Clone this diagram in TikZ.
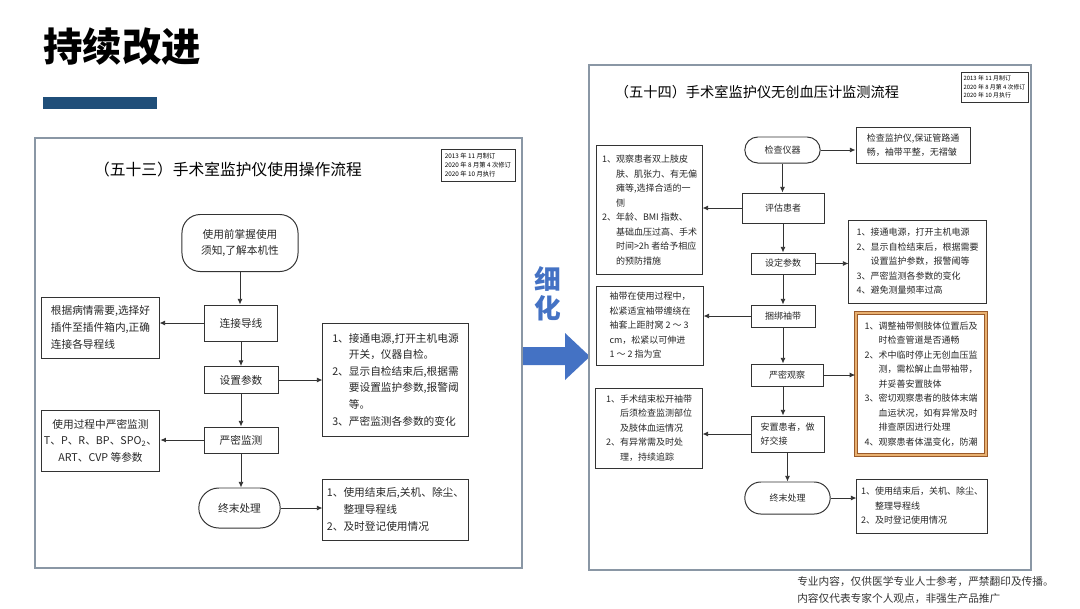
\documentclass[tikz,border=0pt]{standalone}
\usepackage{fontspec}
\setmainfont{Noto Sans CJK SC}
\usetikzlibrary{arrows.meta,shapes.misc}

\definecolor{framegray}{HTML}{8A97A5}
\definecolor{barblue}{HTML}{1F4E79}
\definecolor{arrowblue}{HTML}{4472C4}
\definecolor{boxline}{HTML}{333333}
\definecolor{brownline}{HTML}{9A5A2A}
\definecolor{orangeline}{HTML}{E8B070}

% hanging indent for numbered lines
\newcommand{\ind}{\phantom{1、}}

\tikzset{
  panelframe/.style={draw=framegray, line width=1pt},
  procbox/.style={draw=boxline, line width=0.7pt, text=black!85, inner sep=2pt},
  startbox/.style={procbox, rounded corners=13pt},
  endbox/.style={procbox, rounded rectangle},
  notebox/.style={procbox, align=left},
  warnbox/.style={notebox, draw=brownline, line width=1pt, double=orangeline, double distance=1.2pt},
  verbox/.style={draw=boxline, line width=0.6pt, align=left, inner sep=1.5pt},
  flow/.style={draw=boxline, line width=0.6pt, -{Latex[length=4pt,width=3.5pt]}},
  lfont/.style={font=\fontsize{7.6}{11.8}\selectfont},
  rfont/.style={font=\fontsize{6.4}{10.3}\selectfont}
}

\begin{document}
\begin{tikzpicture}[x=0.025cm, y=-0.025cm]
\useasboundingbox (0,0) rectangle (1080,608);

% heading
\node[anchor=west, inner sep=0, font=\fontsize{28}{30}\selectfont\bfseries] (heading) at (43,46.5) {持续改进};
\fill[barblue] (43,97) rectangle (157,109);

% left panel
\draw[panelframe] (35,138) rectangle (522,568);
\node[font=\fontsize{11.2}{13}\selectfont] (titleL) at (228,170) {（五十三）手术室监护仪使用操作流程};
\node[verbox, minimum width=1.85cm, minimum height=0.8cm, font=\fontsize{4.5}{6.4}\selectfont] (verL) at (478,165)
  {2013 年 11 月制订\\2020 年 8 月第 4 次修订\\2020 年 10 月执行};

\node[startbox, lfont, align=center, minimum width=2.9cm, minimum height=1.425cm] (useL) at (240,243) {使用前掌握使用\\须知,了解本机性};
\node[procbox, lfont, minimum width=1.825cm, minimum height=0.9cm] (wireL) at (241,323) {连接导线};
\node[procbox, lfont, minimum width=1.85cm, minimum height=0.675cm] (setL) at (241,380) {设置参数};
\node[procbox, lfont, minimum width=1.85cm, minimum height=0.65cm] (monL) at (241,440) {严密监测};
\node[endbox, lfont, minimum width=2.175cm, minimum height=1cm] (endL) at (239.5,508) {终末处理};

\node[notebox, lfont, minimum width=2.925cm, minimum height=1.525cm] (wireNote) at (100.5,327.5)
  {根据病情需要,选择好\\插件至插件箱内,正确\\连接各导程线};
\node[notebox, lfont, minimum width=3.625cm, minimum height=2.825cm] (setNote) at (395.5,379.5)
  {1、接通电源,打开主机电源\\\ind 开关，仪器自检。\\2、显示自检结束后,根据需\\\ind 要设置监护参数,报警阈\\\ind 等。\\3、严密监测各参数的变化};
\node[notebox, lfont, align=center, minimum width=2.925cm, minimum height=1.525cm] (monNote) at (100.5,440.5)
  {使用过程中严密监测\\T、P、R、BP、SPO\textsubscript{2}、\\ART、CVP 等参数};
\node[notebox, lfont, minimum width=3.625cm, minimum height=1.525cm] (endNote) at (395.5,509.5)
  {1、使用结束后,关机、除尘、\\\ind 整理导程线\\2、及时登记使用情况};

\draw[flow] (useL.south) -- (useL.south |- wireL.north);
\draw[flow] (wireL.south) -- (wireL.south |- setL.north);
\draw[flow] (setL.south) -- (setL.south |- monL.north);
\draw[flow] (monL.south) -- (monL.south |- endL.north);
\draw[flow] (wireL.west) -- (wireL.west -| wireNote.east);
\draw[flow] (setL.east) -- (setL.east -| setNote.west);
\draw[flow] (monL.west) -- (monL.west -| monNote.east);
\draw[flow] (endL.east) -- (endL.east -| endNote.west);

% refine arrow
\node[font=\fontsize{19}{20.5}\selectfont\bfseries, text=arrowblue, align=center] (refine) at (548,294) {细\\化};
\fill[arrowblue] (523,347) -- (565,347) -- (565,333) -- (590,356.5) -- (565,380) -- (565,365) -- (523,365) -- cycle;

% right panel
\draw[panelframe] (589,65) rectangle (1031,570);
\node[font=\fontsize{10.1}{12}\selectfont] (titleR) at (757,92) {（五十四）手术室监护仪无创血压计监测流程};
\node[verbox, minimum width=1.675cm, minimum height=0.75cm, font=\fontsize{4.2}{6}\selectfont] (verR) at (994.5,87)
  {2013 年 11 月制订\\2020 年 8 月第 4 次修订\\2020 年 10 月执行};

\node[endbox, rfont, minimum width=2.025cm, minimum height=0.65cm] (checkR) at (782.5,150) {检查仪器};
\node[procbox, rfont, minimum width=2.05cm, minimum height=0.75cm] (assessR) at (783,208) {评估患者};
\node[procbox, rfont, minimum width=1.6cm, minimum height=0.525cm] (setR) at (783,263.5) {设定参数};
\node[procbox, rfont, minimum width=1.6cm, minimum height=0.55cm] (cuffR) at (783,316) {捆绑袖带};
\node[procbox, rfont, minimum width=1.8cm, minimum height=0.55cm] (watchR) at (787,375) {严密观察};
\node[procbox, rfont, align=left, minimum width=1.825cm, minimum height=0.9cm] (placeR) at (787.5,434) {安置患者，做\\好交接};
\node[endbox, rfont, minimum width=2.275cm, minimum height=0.8cm] (endR) at (787.5,498) {终末处理};

\node[notebox, rfont, minimum width=2.85cm, minimum height=0.9cm] (checkNote) at (913,145)
  {检查监护仪,保证管路通\\畅，袖带平整，无褶皱};
\node[notebox, rfont, minimum width=2.625cm, minimum height=3.2cm] (assessNote) at (649.5,210)
  {1、观察患者双上肢皮\\\ind 肤、肌张力、有无偏\\\ind 瘫等,选择合适的一\\\ind 侧\\2、年龄、BMI 指数、\\\ind 基础血压过高、手术\\\ind 时间>2h 者给予相应\\\ind 的预防措施};
\node[notebox, rfont, minimum width=3.425cm, minimum height=2.075cm] (setNoteR) at (917.5,261.5)
  {1、接通电源，打开主机电源\\2、显示自检结束后，根据需要\\\ind 设置监护参数，报警阈等\\3、严密监测各参数的变化\\4、避免测量频率过高};
\node[notebox, rfont, minimum width=2.65cm, minimum height=1.975cm] (cuffNote) at (650,325.5)
  {袖带在使用过程中，\\松紧适宜袖带缠绕在\\袖套上距肘窝 2 ～ 3\\cm，松紧以可伸进\\1 ～ 2 指为宜};
\node[warnbox, rfont, minimum width=3.25cm, minimum height=3.55cm] (watchNote) at (921,384)
  {1、调整袖带侧肢体位置后及\\\ind 时检查管道是否通畅\\2、术中临时停止无创血压监\\\ind 测，需松解止血带袖带，\\\ind 并妥善安置肢体\\3、密切观察患者的肢体末端\\\ind 血运状况，如有异常及时\\\ind 排查原因进行处理\\4、观察患者体温变化，防潮};
\node[notebox, rfont, minimum width=2.65cm, minimum height=2cm] (placeNote) at (649,428)
  {1、手术结束松开袖带\\\ind 后须检查监测部位\\\ind 及肢体血运情况\\2、有异常需及时处\\\ind 理，持续追踪};
\node[notebox, rfont, minimum width=3.25cm, minimum height=1.35cm] (endNoteR) at (922,506)
  {1、使用结束后，关机、除尘、\\\ind 整理导程线\\2、及时登记使用情况};

\draw[flow] (checkR.south) -- (checkR.south |- assessR.north);
\draw[flow] (assessR.south) -- (assessR.south |- setR.north);
\draw[flow] (setR.south) -- (setR.south |- cuffR.north);
\draw[flow] (cuffR.south) -- (cuffR.south |- watchR.north);
\draw[flow] (cuffR.south |- watchR.south) -- (cuffR.south |- placeR.north);
\draw[flow] (placeR.south) -- (placeR.south |- endR.north);
\draw[flow] (checkR.east) -- (checkR.east -| checkNote.west);
\draw[flow] (assessR.west) -- (assessR.west -| assessNote.east);
\draw[flow] (setR.east) -- (setR.east -| setNoteR.west);
\draw[flow] (cuffR.west) -- (cuffR.west -| cuffNote.east);
\draw[flow] (watchR.east) -- (watchR.east -| watchNote.west);
\draw[flow] (placeR.west) -- (placeR.west -| placeNote.east);
\draw[flow] (endR.east) -- (endR.east -| endNoteR.west);

% footer
\node[anchor=north west, align=left, inner sep=0, text=black!80, font=\fontsize{7.6}{12}\selectfont] (footer) at (797,576)
  {专业内容，仅供医学专业人士参考，严禁翻印及传播。\\内容仅代表专家个人观点，非强生产品推广};
\end{tikzpicture}
\end{document}
